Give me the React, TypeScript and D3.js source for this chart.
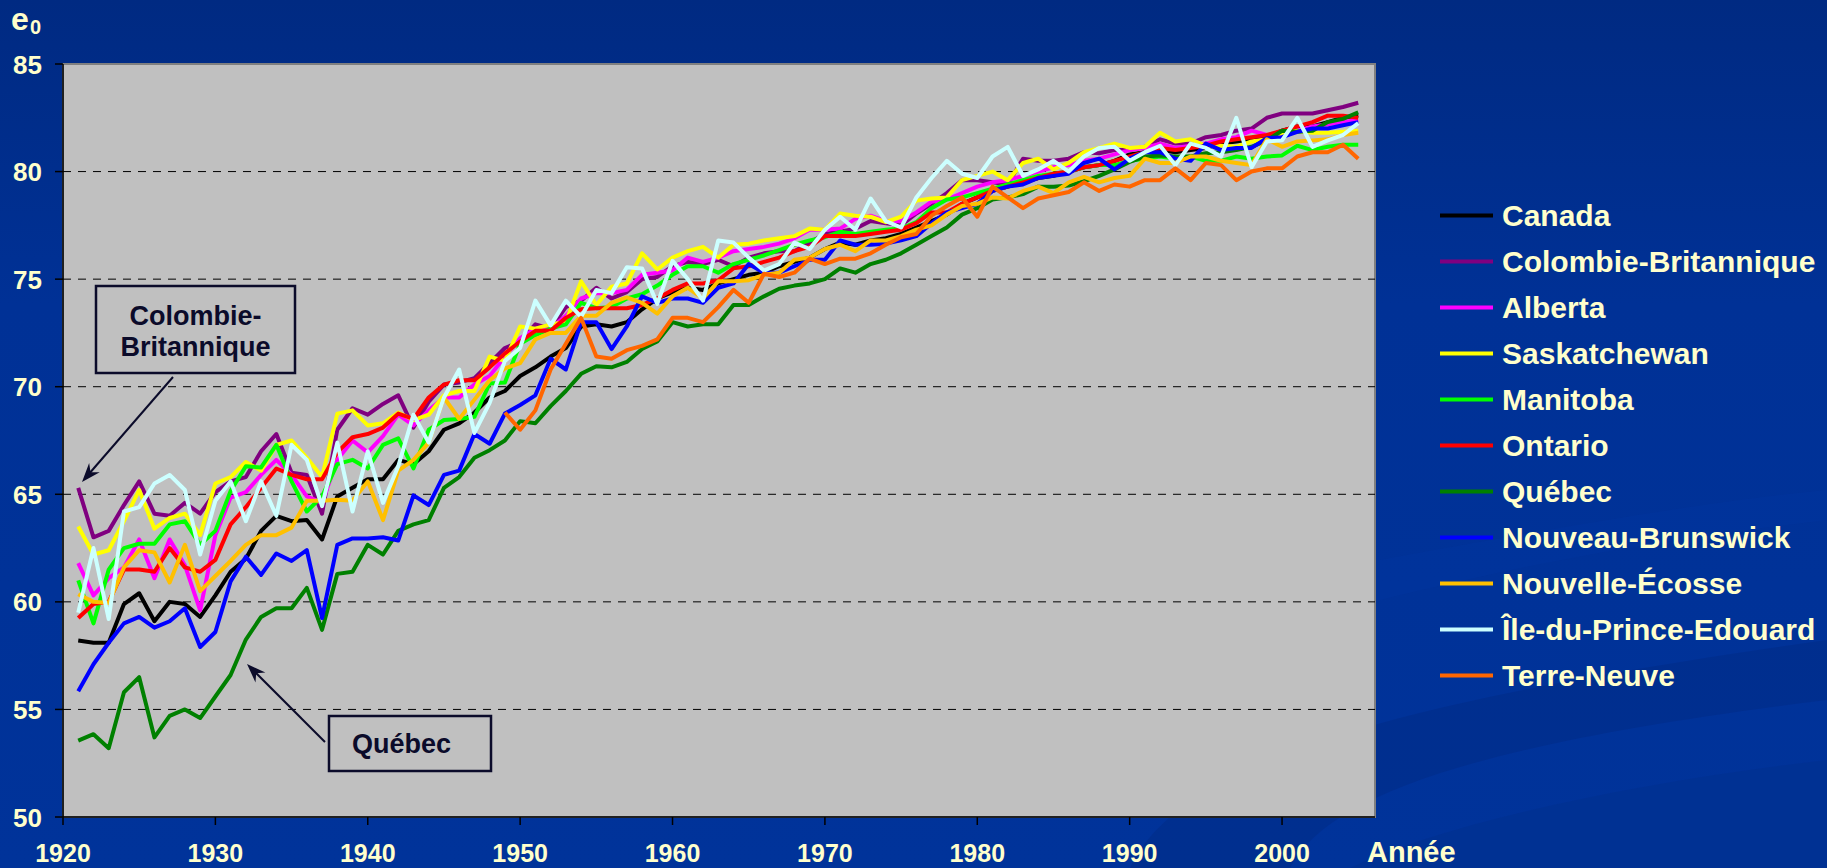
import React from 'react';
import * as d3 from 'd3';

const W = 1827;
const H = 868;

const firstYear = 1921;
const lastYear = 2005;
const years = d3.range(firstYear, lastYear + 1);
const xTicks = [1920, 1930, 1940, 1950, 1960, 1970, 1980, 1990, 2000];
const yTicks = [50, 55, 60, 65, 70, 75, 80, 85];
const gridValues = [55, 60, 65, 70, 75, 80];

// espérance de vie à la naissance, 1921-2005
const canada = [
  58.2, 58.1, 58.1, 59.9, 60.4, 59.1, 60.0, 59.9, 59.3, 60.3,
  61.4, 62.0, 63.3, 64.0, 63.75, 63.8, 62.9, 64.9, 65.3, 65.7,
  65.7, 66.6, 66.4, 67.0, 68.0, 68.3, 68.8, 69.5, 69.8, 70.5,
  70.9, 71.4, 71.8, 72.8, 72.9, 72.8, 73.0, 73.6, 74.1, 74.4,
  74.6, 74.5, 74.8, 75.0, 75.2, 75.3, 75.6, 75.8, 76.0, 76.4,
  76.7, 76.6, 76.8, 76.9, 77.1, 77.4, 77.7, 78.0, 78.5, 78.8,
  79.1, 79.3, 79.5, 79.7, 79.8, 80.0, 80.2, 80.3, 80.5, 80.8,
  80.9, 81.0, 80.9, 81.0, 81.1, 81.3, 81.4, 81.5, 81.6, 81.9,
  82.1, 82.1, 82.3, 82.5, 82.6,
];
const colombieBritannique = [
  65.3, 63.0, 63.3, 64.5, 65.6, 64.1, 64.0, 64.6, 64.1, 65.1,
  65.6, 65.8, 67.0, 67.8, 66.0, 65.9, 64.1, 68.0, 69.0, 68.7,
  69.2, 69.6, 68.1, 69.3, 70.1, 70.2, 70.4, 71.1, 71.8, 72.1,
  72.9, 72.7, 73.7, 74.0, 74.6, 74.1, 74.4, 75.0, 75.1, 75.6,
  75.8, 75.7, 75.9, 75.6, 76.0, 76.2, 76.3, 76.3, 76.7, 77.1,
  77.2, 77.35, 77.7, 77.6, 77.5, 78.05, 78.5, 79.0, 79.6, 79.6,
  79.5, 79.4, 80.6, 80.5, 80.5, 80.6, 80.9, 80.85, 81.0, 81.0,
  81.15, 81.5, 81.3, 81.3, 81.6, 81.7, 81.9, 82.0, 82.5, 82.7,
  82.7, 82.7, 82.85, 83.0, 83.2,
];
const alberta = [
  61.8, 60.3, 61.1, 61.6, 62.9, 61.1, 62.9, 61.7, 59.6, 63.1,
  64.85, 65.1, 65.9, 66.6, 65.9, 64.9, 64.6, 66.6, 67.5, 66.95,
  67.7, 68.7, 68.2, 68.9, 69.5, 69.5, 70.1, 70.5, 71.4, 72.25,
  72.7, 72.7, 73.3, 74.1, 74.35, 74.35, 74.5, 75.2, 75.3, 75.4,
  76.0, 75.8, 76.0, 76.3, 76.4, 76.5, 76.65, 76.9, 77.3, 77.3,
  77.35, 77.8, 77.95, 77.7, 77.7, 78.1, 78.6, 78.7, 79.0, 79.3,
  79.5, 79.6, 79.8, 80.0, 80.2, 80.3, 80.5, 80.6, 80.8, 81.0,
  81.1, 81.3, 81.1, 81.2, 81.3, 81.5, 81.6, 81.9, 81.7, 81.6,
  81.9, 82.1, 82.2, 82.3, 82.4,
];
const saskatchewan = [
  63.5, 62.2, 62.4, 63.75, 65.2, 63.4, 63.9, 64.1, 63.1, 65.5,
  65.8, 66.5, 66.1, 67.3, 67.5, 66.7, 65.8, 68.75, 68.9, 68.2,
  68.3, 68.8, 68.45, 68.7, 69.6, 69.8, 69.8, 71.4, 71.2, 72.8,
  72.7, 72.9, 73.0, 74.9, 73.8, 74.65, 74.8, 76.2, 75.45, 76.0,
  76.3, 76.5, 76.0, 76.6, 76.65, 76.8, 76.9, 77.0, 77.35, 77.3,
  78.05, 77.95, 77.9, 77.65, 77.9, 78.65, 78.75, 78.8, 79.6, 79.8,
  80.0, 79.6, 80.4, 80.6, 80.1, 80.4, 80.9, 81.1, 81.3, 81.1,
  81.15, 81.8, 81.4, 81.5, 81.2, 81.2, 81.15, 81.4, 81.5, 81.8,
  81.9, 81.8, 81.8, 81.85, 81.9,
];
const manitoba = [
  61.0, 59.0, 61.5, 62.5, 62.7, 62.7, 63.6, 63.75, 62.65, 63.3,
  65.15, 66.3, 66.25, 67.3, 65.6, 64.2, 64.9, 66.4, 66.6, 66.2,
  67.3, 67.6, 66.2, 68.0, 68.45, 68.5, 68.6, 70.15, 70.2, 72.0,
  72.4, 72.7, 72.9, 73.9, 73.65, 73.7, 74.1, 74.3, 74.7, 75.2,
  75.6, 75.6, 75.3, 75.7, 75.9, 76.1, 76.35, 76.6, 76.8, 76.95,
  77.2, 77.1, 77.2, 77.3, 77.35, 77.65, 78.3, 78.7, 78.8, 79.0,
  79.2, 79.4, 79.6, 79.8, 79.9, 80.0, 80.2, 80.3, 80.3, 80.5,
  80.6, 80.7, 80.6, 80.7, 80.5, 80.5, 80.7, 80.6, 80.7, 80.75,
  81.2, 81.0, 81.15, 81.25, 81.25,
];
const ontario = [
  59.25, 59.9, 60.0, 61.5, 61.5, 61.4, 62.5, 61.6, 61.4, 61.95,
  63.6, 64.4, 65.3, 66.2, 65.9, 65.7, 65.7, 66.95, 67.65, 67.8,
  68.1, 68.75, 68.5, 69.5, 70.1, 70.3, 70.3, 70.9, 71.55, 72.1,
  72.6, 72.6, 73.2, 73.6, 73.65, 73.65, 73.65, 73.8, 74.1, 74.5,
  74.8, 74.8, 74.95, 75.5, 75.6, 75.8, 76.0, 76.3, 76.5, 77.0,
  77.0, 77.0, 77.1, 77.2, 77.3, 77.6, 78.1, 78.1, 78.5, 78.8,
  79.1, 79.3, 79.5, 79.7, 79.9, 80.0, 80.2, 80.3, 80.5, 80.7,
  80.9, 81.1, 81.0, 81.1, 81.2, 81.4, 81.5, 81.6, 81.7, 81.9,
  82.1, 82.3, 82.6, 82.6, 82.5,
];
const quebec = [
  53.55, 53.85, 53.2, 55.8, 56.5, 53.7, 54.7, 55.0, 54.6, 55.6,
  56.6, 58.25, 59.3, 59.7, 59.7, 60.65, 58.7, 61.3, 61.4, 62.65,
  62.2, 63.3, 63.6, 63.8, 65.3, 65.8, 66.7, 67.05, 67.5, 68.4,
  68.3, 69.1, 69.8, 70.6, 70.95, 70.9, 71.15, 71.75, 72.1, 73.0,
  72.8, 72.9, 72.9, 73.8, 73.8, 74.2, 74.55, 74.7, 74.8, 75.0,
  75.5, 75.3, 75.7, 75.9, 76.2, 76.6, 77.0, 77.4, 78.0, 78.3,
  78.7, 78.8, 78.95, 79.3, 79.3, 79.35, 79.55, 79.8, 80.1, 80.45,
  80.7, 80.75, 80.7, 80.7, 80.85, 80.9, 81.0, 81.15, 81.45, 81.9,
  81.85, 81.9, 82.3, 82.45, 82.75,
];
const nouveauBrunswick = [
  55.85, 57.1, 58.1, 59.0, 59.3, 58.8, 59.1, 59.7, 57.9, 58.6,
  60.95, 62.1, 61.25, 62.25, 61.9, 62.4, 59.25, 62.65, 62.95, 62.95,
  63.0, 62.85, 64.95, 64.5, 65.9, 66.1, 67.8, 67.35, 68.75, 69.15,
  69.6, 71.3, 70.8, 73.0, 73.0, 71.75, 72.8, 74.2, 73.9, 74.1,
  74.1, 73.9, 74.6, 74.8, 75.7, 75.3, 75.3, 75.6, 75.9, 75.9,
  76.8, 76.6, 76.6, 76.65, 76.8, 77.0, 77.6, 78.1, 78.3, 78.5,
  79.1, 79.3, 79.4, 79.7, 79.8, 79.9, 80.4, 80.6, 80.1, 80.6,
  80.9, 80.9, 80.6, 80.5, 81.3, 81.0, 81.1, 81.1, 81.55, 81.6,
  81.85, 82.0, 82.0, 82.15, 82.3,
];
const nouvelleEcosse = [
  60.35, 60.0, 59.95, 61.6, 62.4, 62.3, 60.9, 62.65, 60.5, 61.2,
  61.9, 62.65, 63.1, 63.1, 63.45, 64.7, 64.7, 64.75, 64.7, 65.6,
  63.8, 66.1, 66.6, 67.4, 69.5, 68.5, 69.4, 70.3, 70.85, 71.1,
  72.2, 72.5, 72.5, 73.3, 73.3, 73.9, 74.15, 73.9, 73.4, 74.2,
  74.6, 74.1, 74.9, 74.9, 74.95, 75.2, 75.3, 75.9, 76.0, 76.4,
  76.6, 76.3, 76.8, 76.8, 77.0, 77.3, 77.5, 78.0, 78.4, 78.5,
  78.8, 78.75, 79.1, 79.3, 79.0, 79.5, 79.75, 79.5, 79.7, 79.8,
  80.6, 80.4, 80.4, 80.7, 80.7, 80.5, 80.4, 80.3, 81.5, 81.15,
  81.4, 81.45, 81.5, 81.7, 81.8,
];
const ileDuPrinceEdouard = [
  59.5, 62.5, 59.2, 64.2, 64.4, 65.5, 65.9, 65.2, 62.2, 64.7,
  65.6, 63.75, 65.6, 64.0, 67.3, 66.6, 64.45, 67.4, 64.2, 67.0,
  64.6, 66.3, 68.7, 67.4, 69.5, 70.8, 67.85, 69.25, 71.2, 71.8,
  74.0, 72.85, 74.0, 73.25, 74.5, 74.35, 75.55, 75.5, 73.85, 75.85,
  75.0, 74.0, 76.8, 76.7, 76.0, 75.4, 75.7, 76.7, 76.4, 77.3,
  77.9, 77.3, 78.75, 77.7, 77.4, 78.8, 79.7, 80.5, 79.9, 79.7,
  80.7, 81.15, 79.8, 80.1, 80.5, 80.0, 80.7, 81.1, 81.15, 80.5,
  80.9, 81.2, 80.3, 81.3, 81.1, 80.7, 82.5, 80.2, 81.4, 81.45,
  82.5, 81.15, 81.45, 81.7, 82.25,
];
// Terre-Neuve : série à partir de 1949
const terreNeuve = [
  ...Array(28).fill(null),
  68.8, 68.0, 68.9, 70.8, 72.0, 73.2, 71.4, 71.3, 71.7, 71.9,
  72.2, 73.2, 73.2, 73.0, 73.7, 74.5, 73.9, 75.25, 75.1, 75.3,
  75.95, 75.7, 75.95, 75.95, 76.2, 76.6, 76.95, 77.1, 77.95, 78.4,
  78.8, 77.9, 79.3, 78.8, 78.3, 78.75, 78.9, 79.05, 79.5, 79.1,
  79.4, 79.3, 79.6, 79.6, 80.15, 79.6, 80.4, 80.3, 79.6, 80.0,
  80.15, 80.15, 80.7, 80.9, 80.9, 81.25, 80.6,
];

const seriesNames = [
  'Canada', 'Colombie-Britannique', 'Alberta', 'Saskatchewan', 'Manitoba', 'Ontario',
  'Québec', 'Nouveau-Brunswick', 'Nouvelle-Écosse', 'Île-du-Prince-Edouard', 'Terre-Neuve',
];
const seriesColors = [
  '#000000', '#800080', '#FF00FF', '#FFFF00', '#00FF00', '#FF0000',
  '#008000', '#0000FF', '#FFC000', '#CCFFFF', '#FF6600',
];
const seriesValues = [
  canada, colombieBritannique, alberta, saskatchewan, manitoba, ontario,
  quebec, nouveauBrunswick, nouvelleEcosse, ileDuPrinceEdouard, terreNeuve,
];

const plot = { left: 63, right: 1375, top: 64, bottom: 817 };
const font = '"Liberation Sans", Arial, sans-serif';
const cream = '#FFFFCC';
const ink = '#0B0B2A';

const x = d3.scaleLinear().domain([1920, 2006.1]).range([plot.left, plot.right]);
const y = d3.scaleLinear().domain([50, 85]).range([plot.bottom, plot.top]);

const line = d3
  .line<number | null>()
  .defined((v) => v != null)
  .x((_, i) => x(years[i]))
  .y((v) => y(v as number));

// stealth arrow head pointing from (x1,y1) to (x2,y2)
function arrowHead(x1: number, y1: number, x2: number, y2: number) {
  const a = Math.atan2(y2 - y1, x2 - x1);
  const len = 19;
  const half = 7;
  const back = 13;
  const bx = x2 - len * Math.cos(a);
  const by = y2 - len * Math.sin(a);
  const nx = -Math.sin(a);
  const ny = Math.cos(a);
  const mx = x2 - back * Math.cos(a);
  const my = y2 - back * Math.sin(a);
  return `M${x2},${y2}L${bx + nx * half},${by + ny * half}L${mx},${my}L${bx - nx * half},${by - ny * half}Z`;
}

export default function App() {
  const legendX = 1440;
  const legendY = 215.5;
  const legendStep = 46;

  return (
    <>
      <style>{'body{margin:0;overflow:hidden;}'}</style>
      <svg width={W} height={H} style={{ display: 'block' }} fontFamily={font}>
        <defs>
          <linearGradient id="bg" x1="0" y1="0" x2="0" y2="1">
            <stop offset="0" stopColor="#002A82" />
            <stop offset="0.35" stopColor="#003196" />
            <stop offset="1" stopColor="#00339A" />
          </linearGradient>
        </defs>
        <rect width={W} height={H} fill="url(#bg)" />
        {/* background swooshes */}
        <path d="M1130,868 C1180,760 1400,700 1827,640 L1827,700 C1500,740 1330,790 1290,868 Z" fill="#002C86" opacity={0.55} />
        <path d="M1350,868 C1450,820 1650,780 1827,760 L1827,868 Z" fill="#00318F" opacity={0.6} />
        <path d="M1380,560 C1600,520 1720,500 1827,490 L1827,520 C1700,535 1560,555 1380,600 Z" fill="#0036A0" opacity={0.35} />

        {/* plot area */}
        <rect x={plot.left} y={plot.top} width={plot.right - plot.left} height={plot.bottom - plot.top} fill="#C0C0C0" stroke="#808080" strokeWidth={2} />

        {gridValues.map((v) => (
          <line key={v} x1={plot.left} x2={plot.right} y1={y(v)} y2={y(v)} stroke="#000" strokeWidth={1} strokeDasharray="8,7" />
        ))}

        {/* axes */}
        <line x1={plot.left} x2={plot.left} y1={plot.top} y2={plot.bottom} stroke="#000" strokeWidth={1.5} />
        <line x1={plot.left} x2={plot.right} y1={plot.bottom} y2={plot.bottom} stroke="#000" strokeWidth={1.5} />
        {yTicks.map((v) => (
          <g key={v}>
            <line x1={plot.left - 8} x2={plot.left} y1={y(v)} y2={y(v)} stroke="#000" strokeWidth={1.5} />
            <text x={42} y={y(v) + 9.5} textAnchor="end" fontSize={26} fontWeight="bold" fill={cream}>{v}</text>
          </g>
        ))}
        {xTicks.map((t) => (
          <g key={t}>
            <line x1={x(t)} x2={x(t)} y1={plot.bottom} y2={plot.bottom + 8} stroke="#000" strokeWidth={1.5} />
            <text x={x(t)} y={862} textAnchor="middle" fontSize={25} fontWeight="bold" fill={cream}>{t}</text>
          </g>
        ))}

        <text x={11} y={30} fontSize={32} fontWeight="bold" fill={cream}>e</text>
        <text x={30} y={34} fontSize={20} fontWeight="bold" fill={cream}>0</text>
        <text x={1367} y={862} fontSize={29} fontWeight="bold" fill={cream}>Année</text>

        {/* series */}
        {seriesValues.map((vals, i) => (
          <path key={seriesNames[i]} d={line(vals) || ''} fill="none" stroke={seriesColors[i]} strokeWidth={4} strokeLinejoin="round" />
        ))}

        {/* annotations */}
        <rect x={96} y={286} width={199} height={87} fill="none" stroke={ink} strokeWidth={2.5} />
        <text x={195.5} y={325} textAnchor="middle" fontSize={27} fontWeight="bold" fill={ink}>Colombie-</text>
        <text x={195.5} y={356} textAnchor="middle" fontSize={27} fontWeight="bold" fill={ink}>Britannique</text>
        <line x1={173} y1={377} x2={88} y2={475} stroke={ink} strokeWidth={2} />
        <path d={arrowHead(173, 377, 82, 482)} fill={ink} />

        <rect x={329} y={716} width={162} height={55} fill="none" stroke={ink} strokeWidth={2.5} />
        <text x={352} y={753} fontSize={27} fontWeight="bold" fill={ink}>Québec</text>
        <line x1={325} y1={742} x2={253} y2={670} stroke={ink} strokeWidth={2} />
        <path d={arrowHead(325, 742, 247, 664)} fill={ink} />

        {/* legend */}
        {seriesNames.map((name, i) => {
          const cy = legendY + i * legendStep;
          return (
            <g key={name}>
              <line x1={legendX} x2={legendX + 53} y1={cy} y2={cy} stroke={seriesColors[i]} strokeWidth={4} />
              <text x={1502} y={cy + 10.5} fontSize={30} fontWeight="bold" fill={cream}>{name}</text>
            </g>
          );
        })}
      </svg>
    </>
  );
}
